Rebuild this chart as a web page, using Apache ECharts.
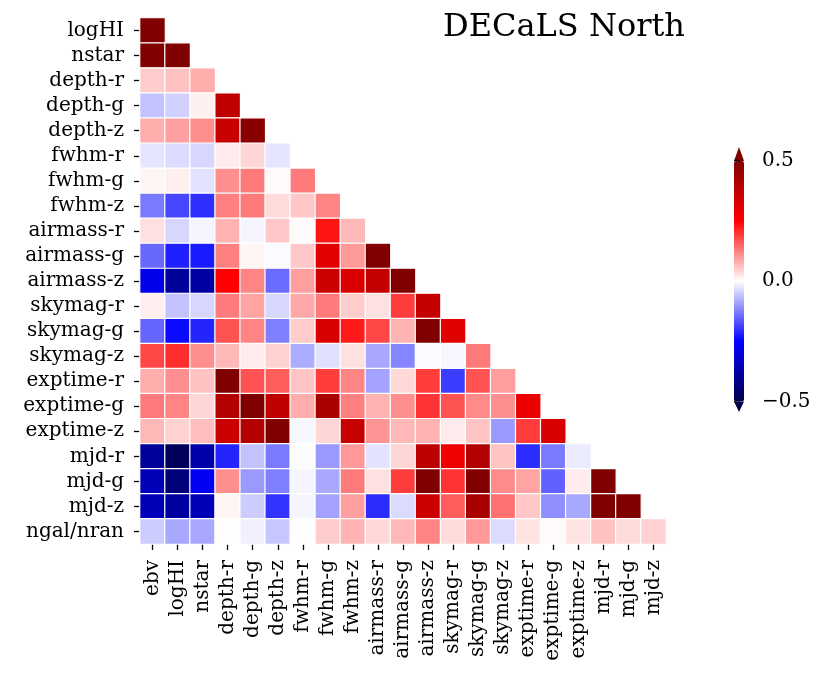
<!DOCTYPE html>
<html>
<head>
<meta charset="utf-8">
<script src="https://cdn.jsdelivr.net/npm/echarts@6/dist/echarts.min.js"></script>
<style>html,body{margin:0;padding:0;background:#fff;}#c{width:829px;height:684px;}</style>
</head>
<body>
<div id="c"></div>
<script>
const colLabels = ['ebv','logHI','nstar','depth-r','depth-g','depth-z','fwhm-r','fwhm-g','fwhm-z','airmass-r','airmass-g','airmass-z','skymag-r','skymag-g','skymag-z','exptime-r','exptime-g','exptime-z','mjd-r','mjd-g','mjd-z'];
const rowLabels = ['logHI','nstar','depth-r','depth-g','depth-z','fwhm-r','fwhm-g','fwhm-z','airmass-r','airmass-g','airmass-z','skymag-r','skymag-g','skymag-z','exptime-r','exptime-g','exptime-z','mjd-r','mjd-g','mjd-z','ngal/nran'];
const colorbarTicks = [-0.5, 0.0, 0.5];
const titleText = 'DECaLS North';

const rLogHI    = [0.55];
const rNstar    = [0.55, 0.6];
const rDepthR   = [0.05, 0.06, 0.08];
const rDepthG   = [-0.06, -0.045, 0.015, 0.375];
const rDepthZ   = [0.08, 0.093, 0.11, 0.36, 0.485];
const rFwhmR    = [-0.025, -0.035, -0.04, 0.02, 0.04, -0.025];
const rFwhmG    = [0.01, 0.015, -0.027, 0.11, 0.13, 0.005, 0.13];
const rFwhmZ    = [-0.13, -0.18, -0.205, 0.125, 0.13, 0.035, 0.055, 0.12];
const rAirmassR = [0.03, -0.04, -0.01, 0.075, -0.01, 0.055, 0.005, 0.23, 0.07];
const rAirmassG = [-0.148, -0.22, -0.225, 0.125, 0.01, -0.005, 0.055, 0.305, 0.1, 0.55];
const rAirmassZ = [-0.28, -0.39, -0.38, 0.25, 0.12, -0.145, 0.095, 0.35, 0.32, 0.365, 0.5];
const rSkymagR  = [0.017, -0.06, -0.04, 0.13, 0.09, -0.04, 0.085, 0.13, 0.05, 0.03, 0.19, 0.365];
const rSkymagG  = [-0.15, -0.24, -0.215, 0.17, 0.12, -0.125, 0.05, 0.32, 0.225, 0.18, 0.075, 0.55, 0.31];
const rSkymagZ  = [0.18, 0.205, 0.11, 0.07, 0.02, 0.045, -0.08, -0.03, 0.03, -0.085, -0.12, -0.005, -0.008, 0.13];
const rExptimeR = [0.08, 0.11, 0.06, 0.5, 0.17, 0.16, 0.058, 0.19, 0.12, -0.09, 0.038, 0.19, -0.19, 0.17, 0.095];
const rExptimeG = [0.13, 0.12, 0.04, 0.4, 0.5, 0.375, 0.08, 0.42, 0.125, 0.075, 0.11, 0.2, 0.17, 0.115, 0.11, 0.285];
const rExptimeZ = [0.07, 0.045, 0.065, 0.35, 0.4, 0.5, -0.008, 0.04, 0.36, 0.105, 0.07, 0.075, 0.02, 0.058, -0.1, 0.19, 0.32];
const rMjdR     = [-0.39, -0.48, -0.37, -0.215, -0.06, -0.13, -0.003, -0.1, 0.1, -0.027, 0.04, 0.38, 0.28, 0.4, 0.058, -0.207, -0.13, -0.02];
const rMjdG     = [-0.35, -0.44, -0.265, 0.11, -0.1, -0.125, -0.01, -0.085, 0.13, 0.03, 0.19, 0.5, 0.2, 0.5, 0.115, 0.09, -0.155, 0.02, 0.55];
const rMjdZ     = [-0.35, -0.38, -0.35, 0.01, -0.05, -0.2, -0.01, -0.09, 0.095, -0.207, -0.035, 0.35, 0.16, 0.42, 0.14, 0.055, -0.11, -0.085, 0.55, 0.5];
const rNgal     = [-0.05, -0.085, -0.085, 0.003, -0.015, -0.055, -0.002, 0.05, 0.075, 0.038, 0.07, 0.12, 0.035, 0.1, -0.035, 0.027, 0.005, 0.027, 0.06, 0.035, 0.045];

const corrRows = [rLogHI, rNstar, rDepthR, rDepthG, rDepthZ, rFwhmR, rFwhmG, rFwhmZ, rAirmassR, rAirmassG, rAirmassZ, rSkymagR, rSkymagG, rSkymagZ, rExptimeR, rExptimeG, rExptimeZ, rMjdR, rMjdG, rMjdZ, rNgal];

const VMIN = -0.5, VMAX = 0.5;
const heatData = [];
corrRows.forEach((row, i) => {
  row.forEach((v, j) => {
    heatData.push([j, i, Math.max(VMIN, Math.min(VMAX, v))]);
  });
});

const FONT = 'DejaVu Serif';
const fmt = v => (v < 0 ? '\u2212' : '') + Math.abs(v).toFixed(1);

const chart = echarts.init(document.getElementById('c'), null, {renderer: 'canvas'});
chart.setOption({
  animation: false,
  backgroundColor: '#ffffff',
  textStyle: {fontFamily: FONT, color: '#000'},
  title: {
    text: titleText, left: 443, top: 12, padding: 0,
    textStyle: {fontFamily: FONT, fontSize: 32, fontWeight: 'normal', color: '#000'}
  },
  grid: [
    {left: 140, top: 18, width: 526, height: 526, containLabel: false},
    {left: 734, top: 160.7, width: 10, height: 241, containLabel: false}
  ],
  xAxis: [
    {
      type: 'category', data: colLabels, gridIndex: 0, position: 'bottom',
      axisLine: {show: false},
      axisTick: {show: true, alignWithLabel: true, interval: 0, length: 6, lineStyle: {color: '#000', width: 1.3}},
      axisLabel: {interval: 0, rotate: 90, margin: 16, fontFamily: FONT, fontSize: 20, color: '#000'},
      splitLine: {show: false}
    },
    {type: 'value', gridIndex: 1, show: false, min: 0, max: 1}
  ],
  yAxis: [
    {
      type: 'category', data: rowLabels, gridIndex: 0, inverse: true,
      axisLine: {show: false},
      axisTick: {show: true, alignWithLabel: true, interval: 0, length: 6, lineStyle: {color: '#000', width: 1.3}},
      axisLabel: {interval: 0, margin: 16, fontFamily: FONT, fontSize: 20, color: '#000'},
      splitLine: {show: false}
    },
    {
      type: 'value', gridIndex: 1, position: 'right', min: VMIN, max: VMAX, interval: 0.5,
      axisLine: {show: false},
      axisTick: {show: true, length: 6, lineStyle: {color: '#000', width: 1.3}},
      axisLabel: {margin: 18, fontFamily: FONT, fontSize: 20, color: '#000', formatter: fmt},
      splitLine: {show: false}
    }
  ],
  visualMap: {
    type: 'continuous', min: VMIN, max: VMAX, seriesIndex: 0,
    calculable: false, showLabel: false, text: null,
    orient: 'vertical', left: 734, top: 160.7, padding: 0,
    itemWidth: 10, itemHeight: 241,
    inRange: {color: ['#00004d', '#0000ff', '#ffffff', '#ff0000', '#800000']}
  },
  series: [
    {
      type: 'heatmap', xAxisIndex: 0, yAxisIndex: 0, data: heatData,
      itemStyle: {borderColor: '#ffffff', borderWidth: 1.2},
      emphasis: {disabled: true}
    },
    {type: 'scatter', xAxisIndex: 1, yAxisIndex: 1, data: [], silent: true}
  ],
  graphic: [
    {type: 'polygon', shape: {points: [[734, 161], [744, 161], [739, 147]]}, style: {fill: '#800000'}, silent: true},
    {type: 'polygon', shape: {points: [[734, 401.5], [744, 401.5], [739, 412]]}, style: {fill: '#00004d'}, silent: true}
  ]
});
</script>
</body>
</html>
